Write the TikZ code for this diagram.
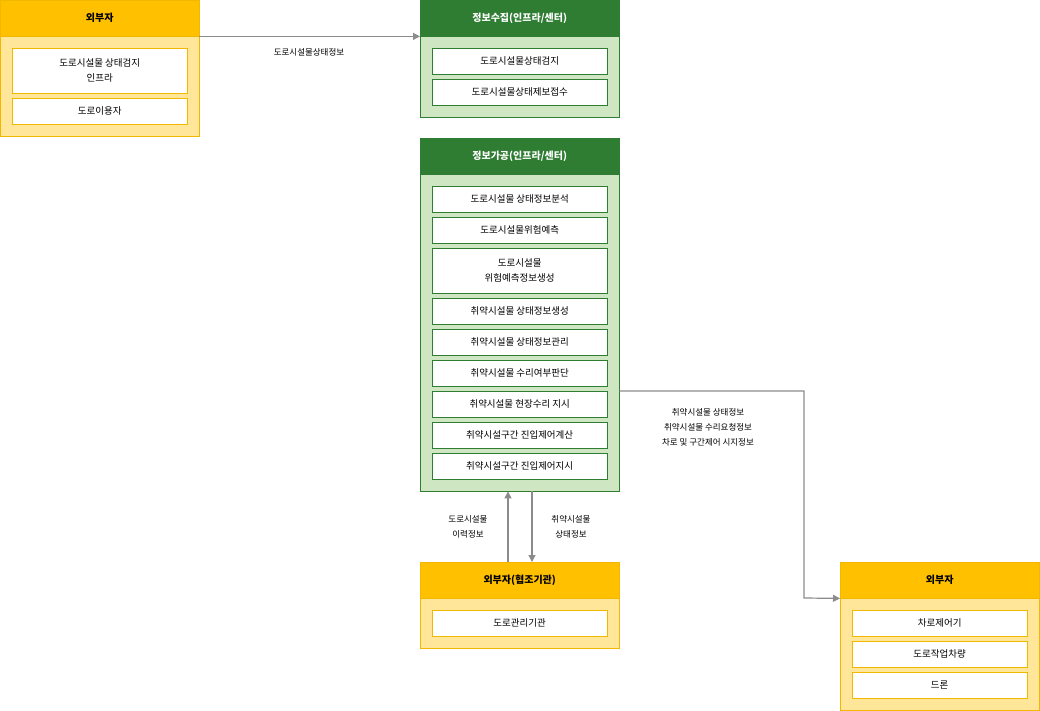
\documentclass[tikz,border=0pt]{standalone}
\usepackage{fontspec}
\setmainfont{Noto Sans CJK KR}
\usetikzlibrary{arrows.meta}
\definecolor{ohead}{HTML}{FFC000}
\definecolor{obody}{HTML}{FFE699}
\definecolor{oline}{HTML}{F2B800}
\definecolor{ghead}{HTML}{2E7D32}
\definecolor{gbody}{HTML}{CFE6C3}
\definecolor{gline}{HTML}{2E7D32}
\definecolor{aline}{HTML}{8C8C8C}
\tikzset{
    box/.style = {anchor=north west, inner sep=0pt, align=center, text centered},
    ohd/.style = {box, fill=ohead, draw=oline, minimum width=199pt, minimum height=36pt, font=\fontsize{10}{12}\selectfont\bfseries},
    obd/.style = {box, fill=obody, draw=oline, minimum width=199pt},
    ghd/.style = {box, fill=ghead, draw=gline, text=white, minimum width=199pt, minimum height=36pt, font=\fontsize{10}{12}\selectfont\bfseries},
    gbd/.style = {box, fill=gbody, draw=gline, minimum width=199pt},
    oitem/.style = {box, fill=white, draw=oline, minimum width=175pt, minimum height=26pt, font=\fontsize{9.5}{15}\selectfont},
    gitem/.style = {box, fill=white, draw=gline, minimum width=175pt, minimum height=26pt, font=\fontsize{9.5}{15}\selectfont},
    lbl/.style = {inner sep=0pt, align=center, font=\fontsize{8.5}{15}\selectfont},
    flow/.style = {draw=aline, line width=1.2pt, -{Triangle[length=7pt,width=7pt]}}
}
\begin{document}
\begin{tikzpicture}[x=1pt, y=-1pt]
\useasboundingbox (0,0) rectangle (1040,711);
% external (left)
\node[obd, minimum height=100pt] (extLbody) at (0,36) {};
\node[ohd] (extL) at (0,0) {외부자};
\node[oitem, minimum height=45pt] (extL1) at (12,48) {도로시설물 상태검지\\인프라};
\node[oitem] (extL2) at (12,98) {도로이용자};
% collection
\node[gbd, minimum height=81pt] (colbody) at (420,36) {};
\node[ghd] (col) at (420,0) {정보수집(인프라/센터)};
\node[gitem] (col1) at (432,48) {도로시설물상태검지};
\node[gitem] (col2) at (432,79) {도로시설물상태제보접수};
% processing
\node[gbd, minimum height=317pt] (probody) at (420,174) {};
\node[ghd] (pro) at (420,138) {정보가공(인프라/센터)};
\node[gitem] (pro1) at (432,186) {도로시설물 상태정보분석};
\node[gitem] (pro2) at (432,217) {도로시설물위험예측};
\node[gitem, minimum height=45pt] (pro3) at (432,248) {도로시설물\\위험예측정보생성};
\node[gitem] (pro4) at (432,298) {취약시설물 상태정보생성};
\node[gitem] (pro5) at (432,329) {취약시설물 상태정보관리};
\node[gitem] (pro6) at (432,360) {취약시설물 수리여부판단};
\node[gitem] (pro7) at (432,391) {취약시설물 현장수리 지시};
\node[gitem] (pro8) at (432,422) {취약시설구간 진입제어계산};
\node[gitem] (pro9) at (432,453) {취약시설구간 진입제어지시};
% cooperating agency
\node[obd, minimum height=50pt] (coobody) at (420,598) {};
\node[ohd] (coo) at (420,562) {외부자(협조기관)};
\node[oitem] (coo1) at (432,610) {도로관리기관};
% external (right)
\node[obd, minimum height=112pt] (extRbody) at (840,598) {};
\node[ohd] (extR) at (840,562) {외부자};
\node[oitem] (extR1) at (852,610) {차로제어기};
\node[oitem] (extR2) at (852,641) {도로작업차량};
\node[oitem] (extR3) at (852,672) {드론};
% flows
\draw[flow] (extL.south east) -- (col.south west);
\node[lbl] (f1) at (309,52) {도로시설물상태정보};
\draw[flow] ([xshift=88pt]coo.north west) -- ([xshift=88pt]probody.south west);
\draw[flow] ([xshift=112pt]probody.south west) -- ([xshift=112pt]coo.north west);
\node[lbl] (f2) at (468,527) {도로시설물\\이력정보};
\node[lbl] (f3) at (571,527) {취약시설물\\상태정보};
\coordinate (bend1) at (804,391);
\coordinate (bend2) at (804,598);
\draw[flow] (probody.east |- bend1) -- (bend1) -- (bend2) -- (extR.south west);
\node[lbl] (f4) at (708,427) {취약시설물 상태정보\\취약시설물 수리요청정보\\차로 및 구간제어 시지정보};
\end{tikzpicture}
\end{document}
